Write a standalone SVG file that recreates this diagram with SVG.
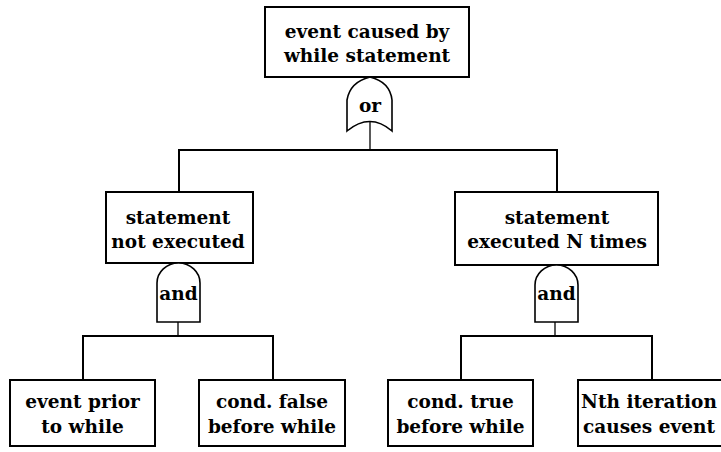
<svg xmlns="http://www.w3.org/2000/svg" width="721" height="452" viewBox="0 0 721 452">
<style>
.box{fill:#fff;stroke:#000;stroke-width:2}
.gate{fill:#fff;stroke:#000;stroke-width:1.6}
.ln{fill:none;stroke:#000;stroke-width:2}
.st{fill:none;stroke:#000;stroke-width:1.3}
text{font-family:"DejaVu Serif","Liberation Serif",serif;font-weight:bold;font-size:18.5px;text-anchor:middle;fill:#000}
</style>
<rect width="721" height="452" fill="#fff"/>
<g id="connectors">
<line class="st" x1="370" y1="122" x2="370" y2="150"/>
<polyline class="ln" points="179,192 179,150 557,150 557,192"/>
<line class="st" x1="178" y1="322" x2="178" y2="336"/>
<polyline class="ln" points="83,380 83,336 273,336 273,380"/>
<line class="st" x1="555" y1="322" x2="555" y2="336"/>
<polyline class="ln" points="461,380 461,336 652,336 652,380"/>
</g>
<g id="top">
<rect class="box" x="265" y="7" width="204" height="70"/>
<text x="367" y="38">event caused by</text>
<text x="367" y="62">while statement</text>
</g>
<g id="or-gate">
<path class="gate" d="M347,131 L347,100 Q350,82 370,77 Q390,82 392,100 L392,131 Q370,112 347,131 Z"/>
<text x="370" y="112">or</text>
</g>
<g id="not-executed">
<rect class="box" x="106" y="192" width="147" height="71"/>
<text x="178" y="224">statement</text>
<text x="178" y="248">not executed</text>
</g>
<g id="executed-n">
<rect class="box" x="455" y="192" width="203" height="73"/>
<text x="557" y="224">statement</text>
<text x="557" y="248">executed N times</text>
</g>
<g id="and-left">
<path class="gate" d="M157,322 L157,283 A21.5,20 0 0 1 200,283 L200,322 Z"/>
<text x="178.5" y="300">and</text>
</g>
<g id="and-right">
<path class="gate" d="M535,322 L535,285 A21.5,20 0 0 1 578,285 L578,322 Z"/>
<text x="556.5" y="300">and</text>
</g>
<g id="event-prior">
<rect class="box" x="10" y="380" width="145" height="66"/>
<text x="82.5" y="408">event prior</text>
<text x="82.5" y="433">to while</text>
</g>
<g id="cond-false">
<rect class="box" x="199" y="380" width="146" height="66"/>
<text x="272" y="408">cond. false</text>
<text x="272" y="433">before while</text>
</g>
<g id="cond-true">
<rect class="box" x="388" y="380" width="145" height="66"/>
<text x="460.5" y="408">cond. true</text>
<text x="460.5" y="433">before while</text>
</g>
<g id="nth-iteration">
<rect class="box" x="578" y="380" width="150" height="66"/>
<text x="649" y="408">Nth iteration</text>
<text x="649" y="433">causes event</text>
</g>
</svg>
